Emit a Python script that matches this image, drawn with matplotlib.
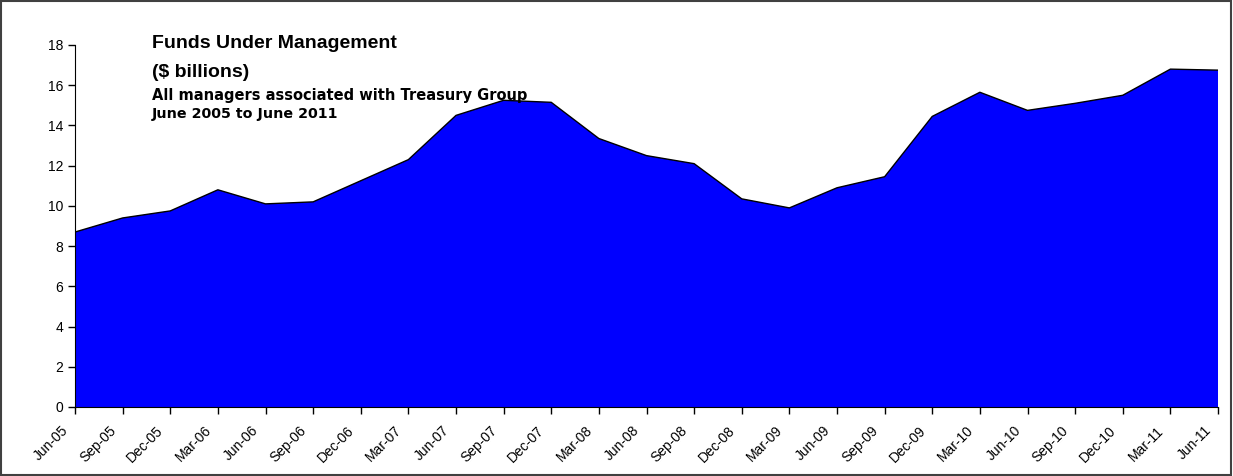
import matplotlib.pyplot as plt
import matplotlib.transforms as mtransforms
from matplotlib.patches import Rectangle

plt.rcParams['font.family'] = ['Liberation Sans', 'DejaVu Sans']

quarters = ["Jun-05", "Sep-05", "Dec-05", "Mar-06", "Jun-06", "Sep-06", "Dec-06",
            "Mar-07", "Jun-07", "Sep-07", "Dec-07", "Mar-08", "Jun-08", "Sep-08",
            "Dec-08", "Mar-09", "Jun-09", "Sep-09", "Dec-09", "Mar-10", "Jun-10",
            "Sep-10", "Dec-10", "Mar-11", "Jun-11"]
fum = [8.7, 9.4, 9.75, 10.8, 10.1, 10.2, 11.25, 12.3, 14.5, 15.25, 15.15, 13.35,
       12.5, 12.1, 10.35, 9.9, 10.9, 11.45, 14.45, 15.65, 14.75, 15.1, 15.5, 16.8,
       16.75]

fig = plt.figure(figsize=(12.33, 4.76), dpi=100)
ax = fig.add_axes([75/1233, 69/476, 1143/1233, 362/476])

x = range(len(quarters))
ax.fill_between(x, fum, 0, facecolor="#0000ff", edgecolor="none")
ax.plot(x, fum, color="black", linewidth=1.0)

ax.set_xlim(0, len(quarters) - 1)
ax.set_ylim(0, 18)
ax.set_yticks(range(0, 19, 2))
ax.set_xticks(list(x))
ax.set_xticklabels(quarters, rotation=45, ha="right", rotation_mode="anchor")
ax.tick_params(axis="both", direction="out", length=5, width=1, labelsize=10)
ax.tick_params(axis="x", labelsize=10, pad=4)
ax.spines["top"].set_visible(False)
ax.spines["right"].set_visible(False)

# nudge the rotated labels down-left like the original
offset = mtransforms.ScaledTranslation(-14/100, -4/100, fig.dpi_scale_trans)
for lab in ax.get_xticklabels():
    lab.set_transform(lab.get_transform() + offset)

fig.text(152/1233, 1 - 48/476, "Funds Under Management", fontsize=14, fontweight="bold")
fig.text(152/1233, 1 - 77/476, "($ billions)", fontsize=14, fontweight="bold")
fig.text(152/1233, 1 - 100/476, "All managers associated with Treasury Group",
         fontsize=10.5, fontweight="bold", family="DejaVu Sans")
fig.text(152/1233, 1 - 118/476, "June 2005 to June 2011", fontsize=10.3,
         fontweight="bold", family="DejaVu Sans")

fig.patches.append(Rectangle((0.001, 0.002), 0.997, 0.996, transform=fig.transFigure,
                             fill=False, edgecolor="#404040", linewidth=1.5))

fig.savefig("out.png", dpi=100)
